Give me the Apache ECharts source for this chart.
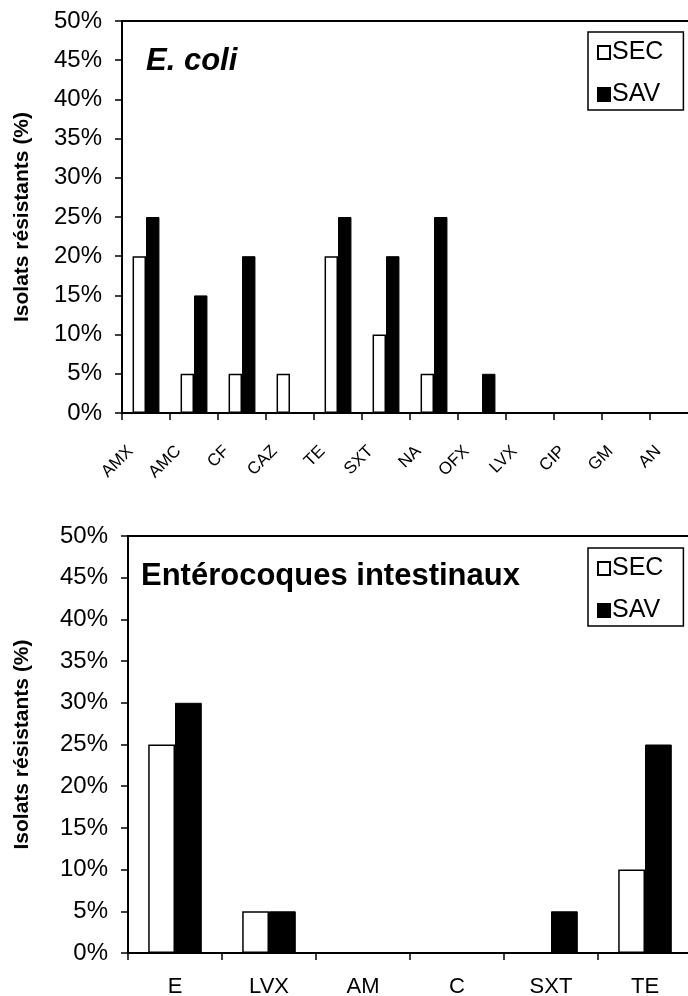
<!DOCTYPE html>
<html>
<head>
<meta charset="utf-8">
<script src="https://cdn.jsdelivr.net/npm/echarts@6/dist/echarts.min.js"></script>
<style>
html,body{margin:0;padding:0;background:#fff;}
#c{width:688px;height:996px;}
</style>
</head>
<body>
<div id="c"></div>
<script>
// Data
const ecoliCategories = ['AMX','AMC','CF','CAZ','TE','SXT','NA','OFX','LVX','CIP','GM','AN'];
const ecoliSEC = [20,5,5,5,20,10,5,0,0,0,0,0];
const ecoliSAV = [25,15,20,0,25,20,25,5,0,0,0,0];
const enteroCategories = ['E','LVX','AM','C','SXT','TE'];
const enteroSEC = [25,5,0,0,0,10];
const enteroSAV = [30,5,0,0,5,25];
const yTicks = [0,5,10,15,20,25,30,35,40,45,50];
const seriesNames = ['SEC','SAV'];
const titles = ['E. coli','Entérocoques intestinaux'];
const yName = 'Isolats résistants (%)';

const FONT = 'Liberation Sans, Arial, sans-serif';
const chart = echarts.init(document.getElementById('c'), null, {renderer:'canvas'});

function yAxis(gridIndex, nameGap){
  return {
    type:'value', gridIndex, min:yTicks[0], max:yTicks[yTicks.length-1], interval:5,
    name: yName, nameLocation:'middle', nameGap, nameRotate:90,
    nameTextStyle:{fontFamily:FONT, fontSize:21, fontWeight:'bold', color:'#000'},
    axisLine:{show:true, lineStyle:{color:'#000', width:2}},
    axisTick:{show:true, length:7, lineStyle:{color:'#000', width:1.5}},
    axisLabel:{fontFamily:FONT, fontSize:24, color:'#000', margin:20, formatter:v=>v+'%'},
    splitLine:{show:false}
  };
}

function legend(top){
  return {data:seriesNames, orient:'vertical', left:588, top,
    padding:[8,20,3,9], itemGap:17, itemWidth:12, itemHeight:13, icon:'rect',
    borderColor:'#000', borderWidth:1.5, backgroundColor:'#fff', selectedMode:false,
    textStyle:{fontFamily:FONT, fontSize:25, color:'#000', padding:[0,0,0,-3]}};
}

const secStyle = {color:'#fff', borderColor:'#000', borderWidth:1.5};
const savStyle = {color:'#000', borderColor:'#000', borderWidth:1};

chart.setOption({
  animation:false,
  backgroundColor:'#fff',
  title:[
    {text:titles[0], left:146, top:46, padding:0,
     textStyle:{fontFamily:FONT, fontSize:31, fontWeight:'bold', fontStyle:'italic', color:'#000'}},
    {text:titles[1], left:141, top:561, padding:0,
     textStyle:{fontFamily:FONT, fontSize:31, fontWeight:'bold', color:'#000'}}
  ],
  legend:[ legend(32), legend(548) ],
  grid:[
    {left:122, top:21, width:576, height:392, containLabel:false, outerBoundsMode:'none',
     show:true, borderColor:'#000', borderWidth:2, backgroundColor:'transparent'},
    {left:128, top:536, width:564, height:417, containLabel:false, outerBoundsMode:'none',
     show:true, borderColor:'#000', borderWidth:2, backgroundColor:'transparent'}
  ],
  xAxis:[
    {type:'category', gridIndex:0, data:ecoliCategories,
     axisLine:{lineStyle:{color:'#000', width:2}},
     axisTick:{show:true, length:7, lineStyle:{color:'#000', width:1.5}},
     axisLabel:{fontFamily:FONT, fontSize:17, color:'#000', rotate:45, margin:20, interval:0, padding:[0,22,0,0]}},
    {type:'category', gridIndex:1, data:enteroCategories,
     axisLine:{lineStyle:{color:'#000', width:2}},
     axisTick:{show:true, length:7, lineStyle:{color:'#000', width:1.5}},
     axisLabel:{fontFamily:FONT, fontSize:22, color:'#000', margin:23, interval:0}}
  ],
  yAxis:[ yAxis(0, 89), yAxis(1, 95) ],
  series:[
    {name:seriesNames[0], type:'bar', xAxisIndex:0, yAxisIndex:0, data:ecoliSEC, itemStyle:secStyle, barGap:'0%', barCategoryGap:'44%'},
    {name:seriesNames[1], type:'bar', xAxisIndex:0, yAxisIndex:0, data:ecoliSAV, itemStyle:savStyle, barGap:'0%', barCategoryGap:'44%'},
    {name:seriesNames[0], type:'bar', xAxisIndex:1, yAxisIndex:1, data:enteroSEC, itemStyle:secStyle, barGap:'0%', barCategoryGap:'43%'},
    {name:seriesNames[1], type:'bar', xAxisIndex:1, yAxisIndex:1, data:enteroSAV, itemStyle:savStyle, barGap:'0%', barCategoryGap:'43%'}
  ]
});
</script>
</body>
</html>
